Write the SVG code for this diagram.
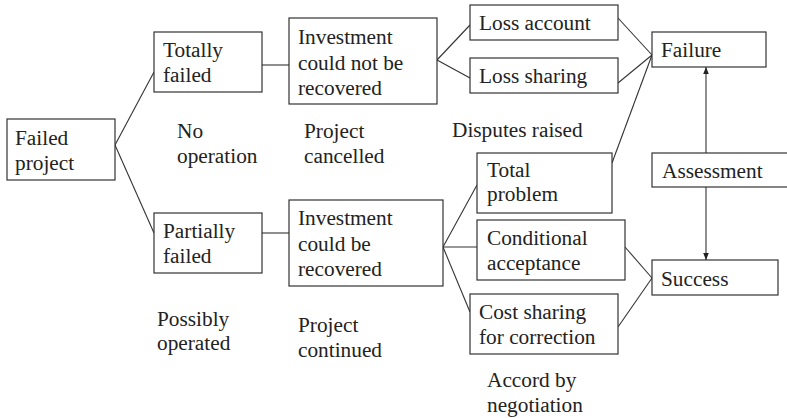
<svg xmlns="http://www.w3.org/2000/svg" width="787" height="418" viewBox="0 0 787 418" font-family="Liberation Serif, Times New Roman, serif" font-size="21.3">
<style>
rect{fill:#fff;stroke:#333;stroke-width:1.2}
.c line{stroke:#333;stroke-width:1.1}
text{fill:#222}
</style>
<defs>
<marker id="ah" viewBox="0 0 10 10" refX="10" refY="5" markerWidth="7" markerHeight="7" markerUnits="userSpaceOnUse" orient="auto"><path d="M0,1L10,5L0,9z" fill="#222"/></marker>
</defs>
<rect width="787" height="418" style="fill:#fff;stroke:none"/>
<g class="c">
<line x1="115" y1="145" x2="154" y2="72"/>
<line x1="115" y1="145" x2="154" y2="233"/>
<line x1="262" y1="65" x2="289" y2="65"/>
<line x1="262" y1="233" x2="289" y2="233"/>
<line x1="437" y1="60" x2="470" y2="25"/>
<line x1="437" y1="60" x2="470" y2="78"/>
<line x1="618" y1="18" x2="652" y2="55"/>
<line x1="618" y1="83" x2="652" y2="55"/>
<line x1="612" y1="163" x2="652" y2="55"/>
<line x1="443" y1="247" x2="477" y2="185"/>
<line x1="443" y1="247" x2="477" y2="247"/>
<line x1="443" y1="247" x2="470" y2="312"/>
<line x1="625" y1="247" x2="652" y2="278"/>
<line x1="618" y1="327" x2="652" y2="278"/>
<line x1="706" y1="153" x2="706" y2="67" marker-end="url(#ah)"/>
<line x1="706" y1="187" x2="706" y2="260" marker-end="url(#ah)"/>
</g>
<g id="failed-project"><rect x="7" y="119" width="108" height="61"/><text x="15" y="145">Failed</text><text x="15" y="170">project</text></g>
<g id="totally-failed"><rect x="154" y="32" width="108" height="60"/><text x="163" y="57">Totally</text><text x="163" y="82">failed</text></g>
<g id="partially-failed"><rect x="154" y="213" width="108" height="60"/><text x="163" y="238">Partially</text><text x="163" y="263">failed</text></g>
<g id="inv-not"><rect x="289" y="18" width="148" height="86"/><text x="298" y="44">Investment</text><text x="298" y="70">could not be</text><text x="298" y="95">recovered</text></g>
<g id="inv-could"><rect x="289" y="200" width="154" height="86"/><text x="298" y="225">Investment</text><text x="298" y="251">could be</text><text x="298" y="276">recovered</text></g>
<g id="loss-account"><rect x="470" y="5" width="148" height="35"/><text x="479" y="30">Loss account</text></g>
<g id="loss-sharing"><rect x="470" y="58" width="148" height="35"/><text x="479" y="83">Loss sharing</text></g>
<g id="total-problem"><rect x="477" y="153" width="135" height="60"/><text x="487" y="177">Total</text><text x="487" y="201">problem</text></g>
<g id="conditional"><rect x="477" y="220" width="148" height="60"/><text x="487" y="245">Conditional</text><text x="487" y="270">acceptance</text></g>
<g id="cost-sharing"><rect x="470" y="294" width="148" height="60"/><text x="479" y="319">Cost sharing</text><text x="479" y="344">for correction</text></g>
<g id="failure"><rect x="652" y="32" width="114" height="35"/><text x="661" y="57">Failure</text></g>
<g id="assessment"><rect x="652" y="153" width="140" height="34"/><text x="662" y="178">Assessment</text></g>
<g id="success"><rect x="652" y="260" width="126" height="35"/><text x="661" y="286">Success</text></g>
<g id="labels">
<text x="177" y="138">No</text><text x="177" y="163">operation</text>
<text x="304" y="138">Project</text><text x="304" y="163">cancelled</text>
<text x="452" y="137">Disputes raised</text>
<text x="157" y="326">Possibly</text><text x="157" y="350">operated</text>
<text x="298" y="332">Project</text><text x="298" y="357">continued</text>
<text x="487" y="387">Accord by</text><text x="487" y="412">negotiation</text>
</g>
</svg>
